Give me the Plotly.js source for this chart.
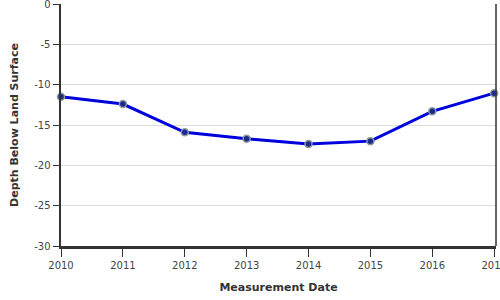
<!DOCTYPE html>
<html><head><meta charset="utf-8">
<script src="https://cdn.plot.ly/plotly-3.0.1.min.js"></script>
<style>body{margin:0;padding:0;background:#fff}#chart{width:500px;height:300px}</style>
</head><body><div id="chart"></div>
<script>
const years = [2010, 2011, 2012, 2013, 2014, 2015, 2016, 2017];
const depth = [-11.5, -12.4, -15.9, -16.7, -17.35, -17.0, -13.3, -11.05];
const yTicks = [0, -5, -10, -15, -20, -25, -30];
const xTicks = [2010, 2011, 2012, 2013, 2014, 2015, 2016, 2017];

const trace = {
  x: years, y: depth, type: 'scatter', mode: 'lines+markers',
  line: {color: '#0000dd', width: 3},
  marker: {size: 7, color: '#1c2a8c', line: {color: '#8a9a9a', width: 1.5}},
  cliponaxis: false, hoverinfo: 'skip'
};
const font = {family: 'DejaVu Sans, sans-serif', size: 10, color: '#444'};
const layout = {
  width: 500, height: 300,
  margin: {l: 61, r: 4, t: 4, b: 54},
  paper_bgcolor: '#fff', plot_bgcolor: '#fff',
  showlegend: false, font: font,
  xaxis: {
    range: [2010, 2017.03], tickvals: xTicks, ticktext: xTicks.map(String),
    showgrid: false, zeroline: false, showline: true, linecolor: '#333', linewidth: 2.5,
    ticks: 'outside', ticklen: 8, tickcolor: '#333', tickwidth: 1,
    tickfont: font, ticklabeloverflow: 'allow',
    title: {text: 'Measurement Date', font: {family: 'DejaVu Sans, sans-serif', size: 11, color: '#333', weight: 'bold'}, standoff: 14}
  },
  yaxis: {
    range: [-30, 0], tickvals: yTicks, ticktext: yTicks.map(String),
    showgrid: true, gridcolor: '#dcdcdc', gridwidth: 1, zeroline: false,
    showline: true, linecolor: '#333', linewidth: 2.5,
    ticks: 'outside', ticklen: 6, tickcolor: '#333', tickwidth: 1,
    tickfont: font, ticklabeloverflow: 'allow',
    title: {text: 'Depth Below Land Surface', font: {family: 'DejaVu Sans, sans-serif', size: 11, color: '#333', weight: 'bold'}, standoff: 14}
  },
  shapes: [{type: 'line', xref: 'paper', yref: 'paper', x0: 1, x1: 1, y0: 0, y1: 1, line: {color: '#333', width: 1.5}}]
};
Plotly.newPlot('chart', [trace], layout, {displayModeBar: false, staticPlot: true});
</script></body></html>
